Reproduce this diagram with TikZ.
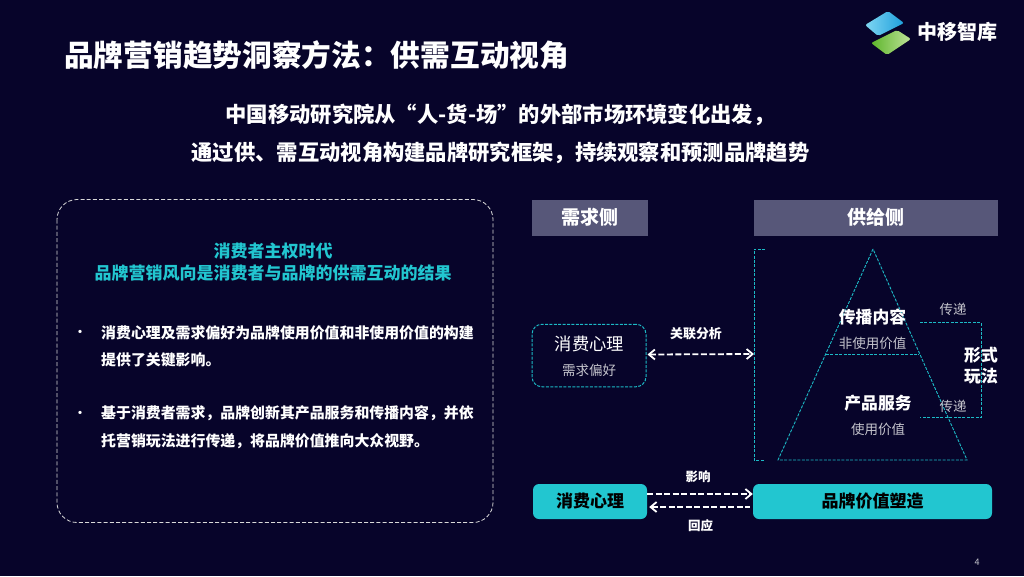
\documentclass[tikz,border=0pt]{standalone}
\usepackage{fontspec}
\setmainfont{Noto Sans CJK SC}
\usetikzlibrary{arrows.meta,calc}
\newcommand{\wcomma}{\char"FF0C\relax}
\newcommand{\wcolon}{\char"FF1A\relax}
\definecolor{bgc}{HTML}{07042A}
\definecolor{cyanc}{HTML}{22C6D0}
\definecolor{cyand}{HTML}{1CBAC6}
\definecolor{headc}{HTML}{575779}
\definecolor{greyc}{HTML}{C4C4CC}
\definecolor{logoa}{HTML}{7FD6F2}
\definecolor{logob}{HTML}{1E9FDC}
\definecolor{logoc}{HTML}{5DB52B}
\definecolor{logod}{HTML}{BFE39A}
\tikzset{
 fs/.style={font=\fontsize{#1}{#1}\selectfont},
 fb/.style={font=\fontsize{#1}{#1}\selectfont\bfseries},
 txt/.style={inner sep=0pt,text=white},
 head/.style={fill=headc,inner sep=0pt,text=white,fb=19},
 cdash/.style={draw=cyand,line width=1pt,dash pattern=on 3pt off 1.4pt},
 wdash/.style={draw=white,line width=1.8pt,dash pattern=on 6pt off 2.5pt},
 darrow/.style={wdash,{Straight Barb[length=6pt,width=10pt,line width=1.8pt]}-{Straight Barb[length=6pt,width=10pt,line width=1.8pt]}},
 rarrow/.style={wdash,-{Straight Barb[length=6pt,width=10pt,line width=1.8pt]}},
 larrow/.style={wdash,{Straight Barb[length=6pt,width=10pt,line width=1.8pt]}-},
 teal/.style={fill=cyanc,rounded corners=6pt,inner sep=0pt,text=black,fb=17},
 body/.style={txt,anchor=west,fb=14.9},
 grey/.style={txt,text=greyc,fs=13.5},
}
\begin{document}
\begin{tikzpicture}[x=1pt,y=-1pt]
\fill[bgc] (0,0) rectangle (1024,576);
\useasboundingbox (0,0) rectangle (1024,576);
% logo
\fill[left color=logoa,right color=logob,rounded corners=2pt] (865,25) -- (888,11) -- (904,23) -- (878,36) -- cycle;
\fill[left color=logoc,right color=logod,rounded corners=2pt] (871,43) -- (897,30) -- (911,39) -- (887,55) -- cycle;
\node[txt,fb=20] (logo) at (957.5,32) {中移智库};
% title
\node[txt,anchor=west,fb=29.7] (title) at (64,55) {品牌营销趋势洞察方法\wcolon 供需互动视角};
\node[txt,fb=21.3] (sub1) at (500,114.5) {中国移动研究院从“人-货-场”的外部市场环境变化出发\wcomma};
\node[txt,fb=21.3] (sub2) at (500.5,152.5) {通过供、需互动视角构建品牌研究框架\wcomma 持续观察和预测品牌趋势};
% left panel
\draw[white!85!black,line width=0.8pt,dash pattern=on 4pt off 2.2pt,rounded corners=20pt] (57,199.5) rectangle (493,522.5);
\node[txt,text=cyanc,fb=17] (lh1) at (273,251) {消费者主权时代};
\node[txt,text=cyanc,fb=17] (lh2) at (273,273) {品牌营销风向是消费者与品牌的供需互动的结果};
\node[txt,fb=12] (b1) at (80,333.5) {·};
\node[body] (l1) at (101,332.5) {消费心理及需求偏好为品牌使用价值和非使用价值的构建};
\node[body] (l2) at (101,360) {提供了关键影响。};
\node[txt,fb=12] (b2) at (80,414.5) {·};
\node[body] (l3) at (101,413.5) {基于消费者需求\wcomma 品牌创新其产品服务和传播内容\wcomma 并依};
\node[body] (l4) at (101,441) {托营销玩法进行传递\wcomma 将品牌价值推向大众视野。};
% heads
\node[head,minimum width=116pt,minimum height=36pt] (dem) at (590,217.5) {需求侧};
\node[head,minimum width=244pt,minimum height=36pt] (sup) at (876,217.5) {供给侧};
% demand box
\node[cdash,rounded corners=10pt,minimum width=114pt,minimum height=62.5pt,inner sep=0pt] (psy) at (589,355.5) {};
\node[txt,fs=17.3] (psyt) at (589.5,344) {消费心理};
\node[grey] (pref) at (589,370) {需求偏好};
\node[txt,fb=12.9] (rel) at (696,334) {关联分析};
% bracket
\coordinate (brT) at (765,249);
\coordinate (brB) at (765,460);
\coordinate (brM) at (754,354);
\draw[cdash] (brT) -- (754,249) -- (754,460) -- (brB);
\draw[darrow] (psy.east) ++(1,-1) -- (brM);
% pyramid
\coordinate (pA) at (873,249);
\coordinate (pL) at (778,460);
\coordinate (pR) at (967,460);
\coordinate (mL) at (826,354);
\coordinate (mR) at (919,354);
\draw[cdash,line width=0.9pt] (pA) -- (pL) -- (pR) -- cycle;
\draw[cdash,line width=0.9pt] (mL) -- (mR);
\node[txt,fb=16.8] (c1) at (872.5,317) {传播内容};
\node[grey] (c2) at (872.5,343) {非使用价值};
\node[txt,fb=16.8] (c3) at (878,403) {产品服务};
\node[grey] (c4) at (878,429) {使用价值};
\node[grey] (t1) at (953,309) {传递};
\node[grey] (t2) at (953,406) {传递};
% side bracket
\coordinate (sT) at (920,322.5);
\coordinate (sB) at (920,417.5);
\draw[cdash] (sT) -- (981,322.5) -- (981,417.5) -- (sB);
\node[txt,fb=16.8] (f1) at (981,355) {形式};
\node[txt,fb=16.8] (f2) at (981,376) {玩法};
% bottom
\node[teal,minimum width=114pt,minimum height=35pt] (bL) at (590,501.5) {消费心理};
\node[teal,minimum width=239pt,minimum height=35pt] (bR) at (872.5,501.5) {品牌价值塑造};
\draw[rarrow] ([yshift=7.5pt]bL.east) -- ([yshift=7.5pt]bR.west);
\draw[larrow] ([xshift=2pt,yshift=-5.5pt]bL.east) -- ([xshift=-3pt,yshift=-5.5pt]bR.west);
\node[txt,fb=12.5] (inf) at (698,477) {影响};
\node[txt,fb=12.5] (res) at (700.5,526) {回应};
\node[txt,fs=9,text=greyc] (pg) at (977,562) {4};
\end{tikzpicture}
\end{document}
